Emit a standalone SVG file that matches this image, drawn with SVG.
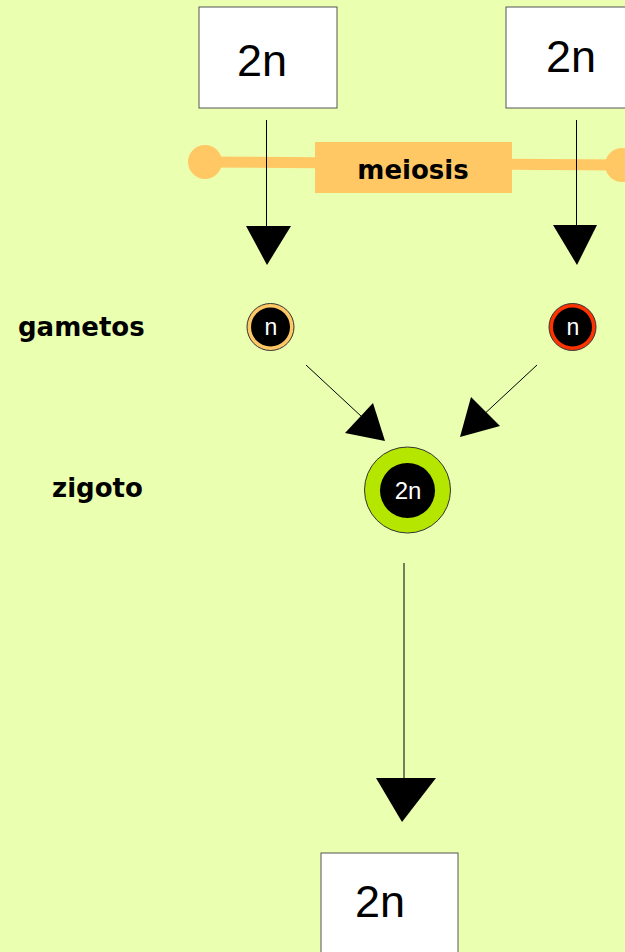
<svg xmlns="http://www.w3.org/2000/svg" width="625" height="952" viewBox="0 0 625 952">
<defs>
<style>
.box{fill:#ffffff;stroke:#555555;stroke-width:1}
.big{font-family:"Liberation Sans",Arial,sans-serif;font-size:45px;fill:#000;text-anchor:middle}
.lbl{font-family:"DejaVu Sans",Verdana,sans-serif;font-weight:bold;font-size:26px;fill:#000}
.cell{font-family:"Liberation Sans",Arial,sans-serif;fill:#fff;text-anchor:middle}
.ln{stroke:#000;stroke-width:1;fill:none}
.head{fill:#000}
</style>
</defs>
<rect width="625" height="952" fill="#EBFFB0"/>
<g id="meiosis">
<line x1="205" y1="162" x2="622" y2="165" stroke="#FFC864" stroke-width="11"/>
<circle cx="205" cy="162" r="17" fill="#FFC864"/>
<circle cx="622" cy="165" r="17" fill="#FFC864"/>
<rect x="315" y="142" width="197" height="51" fill="#FFC864"/>
<text x="413" y="179" class="lbl" text-anchor="middle">meiosis</text>
</g>
<g id="parent1">
<rect x="199" y="7" width="138" height="101" class="box"/>
<text x="262" y="76" class="big">2n</text>
</g>
<g id="parent2">
<rect x="506" y="7" width="138" height="101" class="box"/>
<text x="571" y="72" class="big">2n</text>
</g>
<g id="gametos-label"><text x="18" y="336" class="lbl">gametos</text></g>
<g id="zigoto-label"><text x="52" y="497" class="lbl">zigoto</text></g>
<g id="gamete1">
<circle cx="270.5" cy="327" r="23.5" fill="#FFC864" stroke="#333" stroke-width="1"/>
<circle cx="270.5" cy="327" r="19.5" fill="#000"/>
<text x="271" y="335" class="cell" font-size="23">n</text>
</g>
<g id="gamete2">
<circle cx="572.5" cy="327" r="23.5" fill="#FF3300" stroke="#333" stroke-width="1"/>
<circle cx="572.5" cy="327" r="19.5" fill="#000"/>
<text x="573" y="335" class="cell" font-size="23">n</text>
</g>
<g id="zygote">
<circle cx="407.5" cy="490" r="43" fill="#B4E600" stroke="#333" stroke-width="1"/>
<circle cx="407.5" cy="490.5" r="27.5" fill="#000"/>
<text x="408" y="499" class="cell" font-size="24">2n</text>
</g>
<g id="offspring">
<rect x="321" y="853" width="137" height="110" class="box"/>
<text x="380" y="917" class="big">2n</text>
</g>
<g id="connectors">
<line x1="266.5" y1="120" x2="266.5" y2="228" class="ln"/>
<polygon points="246,226 291,226 267,265" class="head"/>
<line x1="576.5" y1="120" x2="576.5" y2="228" class="ln" stroke="#555"/>
<polygon points="553,225 597,225 577,265" class="head"/>
<line x1="306" y1="365" x2="362" y2="417" class="ln"/>
<polygon points="345,433 373,403 385,441" class="head"/>
<line x1="537" y1="365" x2="480" y2="418" class="ln"/>
<polygon points="471,397 500,426 460,437" class="head"/>
<line x1="404" y1="563" x2="404" y2="780" class="ln"/>
<polygon points="376,778 436,778 402,822" class="head"/>
</g>
</svg>
